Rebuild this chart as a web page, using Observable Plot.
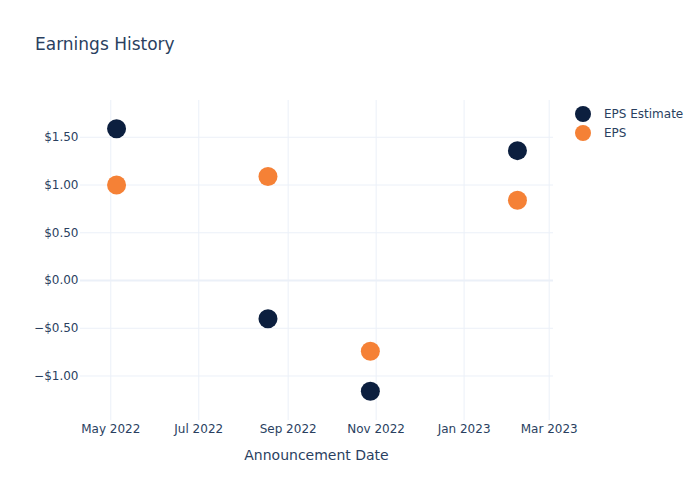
<!DOCTYPE html>
<html>
<head>
<meta charset="utf-8">
<script src="https://cdn.jsdelivr.net/npm/d3@7"></script>
<script src="https://cdn.jsdelivr.net/npm/@observablehq/plot@0.6"></script>
<style>
  body { margin: 0; background: #fff; font-family: "DejaVu Sans", sans-serif; }
  #wrap { position: relative; width: 700px; height: 500px; }
  #title { position: absolute; left: 35px; top: 34px; font-size: 17px; color: #2a3f5f; }
  #xtitle { position: absolute; left: 80px; width: 473px; top: 447px; text-align: center; font-size: 14px; color: #2a3f5f; }
  .leg { position: absolute; left: 575px; font-size: 12px; color: #2a3f5f; display: flex; align-items: center; }
  .leg span.sw { display: inline-block; width: 16px; height: 16px; border-radius: 50%; margin-right: 13px; }
</style>
</head>
<body>
<div id="wrap">
  <div id="chart"></div>
  <div id="title">Earnings History</div>
  <div id="xtitle">Announcement Date</div>
  <div class="leg" style="top:106px"><span class="sw" style="background:#0c1f3f"></span>EPS Estimate</div>
  <div class="leg" style="top:125px"><span class="sw" style="background:#f58136"></span>EPS</div>
</div>
<script>
const dates = ["2022-05-05", "2022-08-18", "2022-10-28", "2023-02-07"];
const epsEstimate = [1.59, -0.40, -1.16, 1.36];
const eps = [1.00, 1.09, -0.74, 0.84];
const seriesNames = ["EPS Estimate", "EPS"];
const seriesColors = ["#0c1f3f", "#f58136"];
const xTicks = ["2022-05-01", "2022-07-01", "2022-09-01", "2022-11-01", "2023-01-01", "2023-03-01"];
const yTicks = [-1, -0.5, 0, 0.5, 1, 1.5];

const rows = [];
dates.forEach((d, i) => {
  rows.push({date: new Date(d), value: epsEstimate[i], series: seriesNames[0]});
  rows.push({date: new Date(d), value: eps[i], series: seriesNames[1]});
});

const fmt = d3.format("$.2f");
const chart = Plot.plot({
  width: 700,
  height: 500,
  marginLeft: 80,
  marginRight: 147,
  marginTop: 100,
  marginBottom: 80,
  style: {fontFamily: "DejaVu Sans, sans-serif", fontSize: "12px", color: "#2a3f5f", background: "#fff"},
  x: {type: "utc", domain: [new Date("2022-04-10"), new Date("2023-03-04")]},
  y: {domain: [-1.466, 1.885]},
  color: {domain: seriesNames, range: seriesColors},
  marks: [
    Plot.gridX(xTicks.map(d => new Date(d)), {stroke: "#ebf0f8", strokeOpacity: 1}),
    Plot.gridY(yTicks, {stroke: "#ebf0f8", strokeOpacity: 1}),
    Plot.ruleY([0], {stroke: "#ebf0f8", strokeWidth: 2}),
    Plot.axisX(xTicks.map(d => new Date(d)), {tickSize: 0, tickPadding: 4, tickFormat: d3.utcFormat("%b %Y"), label: null, fill: "#2a3f5f"}),
    Plot.axisY(yTicks, {tickSize: 0, tickPadding: 2, tickFormat: fmt, label: null, fill: "#2a3f5f"}),
    Plot.dot(rows, {x: "date", y: "value", fill: "series", r: 9.5, stroke: "none"})
  ]
});
document.getElementById("chart").appendChild(chart);
</script>
</body>
</html>
